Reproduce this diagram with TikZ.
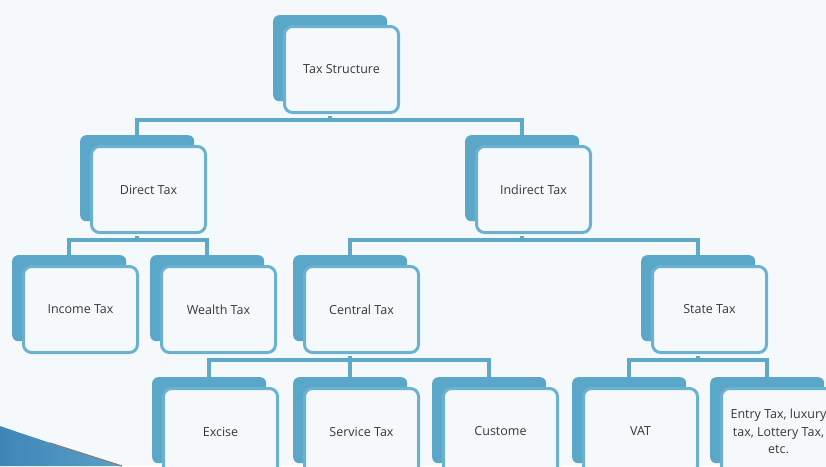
\documentclass[tikz,border=0pt]{standalone}
\usepackage{fontspec}
\setmainfont{Open Sans}
\definecolor{bg}{HTML}{F5F9FB}
\definecolor{backblue}{HTML}{5BA7C9}
\definecolor{edgeblue}{HTML}{6AB2CF}
\definecolor{linkblue}{HTML}{5FA9C8}
\definecolor{frontfill}{HTML}{F6F9FB}
\definecolor{txt}{HTML}{383838}
\definecolor{swooshA}{HTML}{3F86B8}
\definecolor{swooshB}{HTML}{5A9FC8}
\tikzset{
  x=1pt, y=-1pt,
  backbox/.style={fill=backblue, rounded corners=6pt, minimum width=114pt, minimum height=86pt, inner sep=0pt, anchor=north west},
  frontbox/.style={draw=edgeblue, line width=3pt, fill=frontfill, rounded corners=8pt, minimum width=114pt, minimum height=86pt, inner sep=0pt, anchor=north west, font=\fontsize{12.5}{17.5}\selectfont, text=txt, align=center},
  conn/.style={draw=linkblue, line width=3.5pt}
}
\newcommand{\taxbox}[4]{%
  \node[backbox] (#1-back) at (#2-10,#3-10) {};
  \node[frontbox] (#1) at (#2,#3) {#4};
}
\begin{document}
\begin{tikzpicture}
\useasboundingbox (0,0) rectangle (826,466);
\fill[bg] (0,0) rectangle (826,466);
\shade[left color=swooshA, right color=swooshB] (0,426) .. controls (40,440) and (85,454) .. (122,466) -- (0,466) -- cycle;
\draw[black!50, line width=1.2pt] (50,443) .. controls (75,451) and (100,459) .. (122,466);

\taxbox{tax}{283}{25}{Tax Structure}
\taxbox{direct}{90}{145}{Direct Tax}
\taxbox{indirect}{475}{145}{Indirect Tax}
\taxbox{income}{22}{265}{Income Tax}
\taxbox{wealth}{160}{265}{Wealth Tax}
\taxbox{central}{303}{265}{Central Tax}
\taxbox{state}{651}{265}{State Tax}
\taxbox{excise}{162}{387}{Excise}
\taxbox{service}{303}{387}{Service Tax}
\taxbox{custome}{442}{387}{Custome}
\taxbox{vat}{582}{387}{VAT}
\taxbox{entry}{720}{387}{Entry Tax, luxury\\tax, Lottery Tax,\\etc.}

\draw[conn] (direct-back.north) -- ++(0,-15) -| ([yshift=-1.5pt]tax-back.center |- tax.south);
\draw[conn] (indirect-back.north) -- ++(0,-15) -| ([yshift=-1.5pt]tax-back.center |- tax.south);
\draw[conn] (income-back.north) -- ++(0,-15) -| ([yshift=-1.5pt]direct-back.center |- direct.south);
\draw[conn] (wealth-back.north) -- ++(0,-15) -| ([yshift=-1.5pt]direct-back.center |- direct.south);
\draw[conn] (central-back.north) -- ++(0,-15) -| ([yshift=-1.5pt]indirect-back.center |- indirect.south);
\draw[conn] (state-back.north) -- ++(0,-15) -| ([yshift=-1.5pt]indirect-back.center |- indirect.south);
\draw[conn] (excise-back.north) -- ++(0,-17) -| ([yshift=-1.5pt]central-back.center |- central.south);
\draw[conn] (service-back.north) -- ++(0,-17) -| ([yshift=-1.5pt]central-back.center |- central.south);
\draw[conn] (custome-back.north) -- ++(0,-17) -| ([yshift=-1.5pt]central-back.center |- central.south);
\draw[conn] (vat-back.north) -- ++(0,-17) -| ([yshift=-1.5pt]state-back.center |- state.south);
\draw[conn] (entry-back.north) -- ++(0,-17) -| ([yshift=-1.5pt]state-back.center |- state.south);
\end{tikzpicture}
\end{document}
